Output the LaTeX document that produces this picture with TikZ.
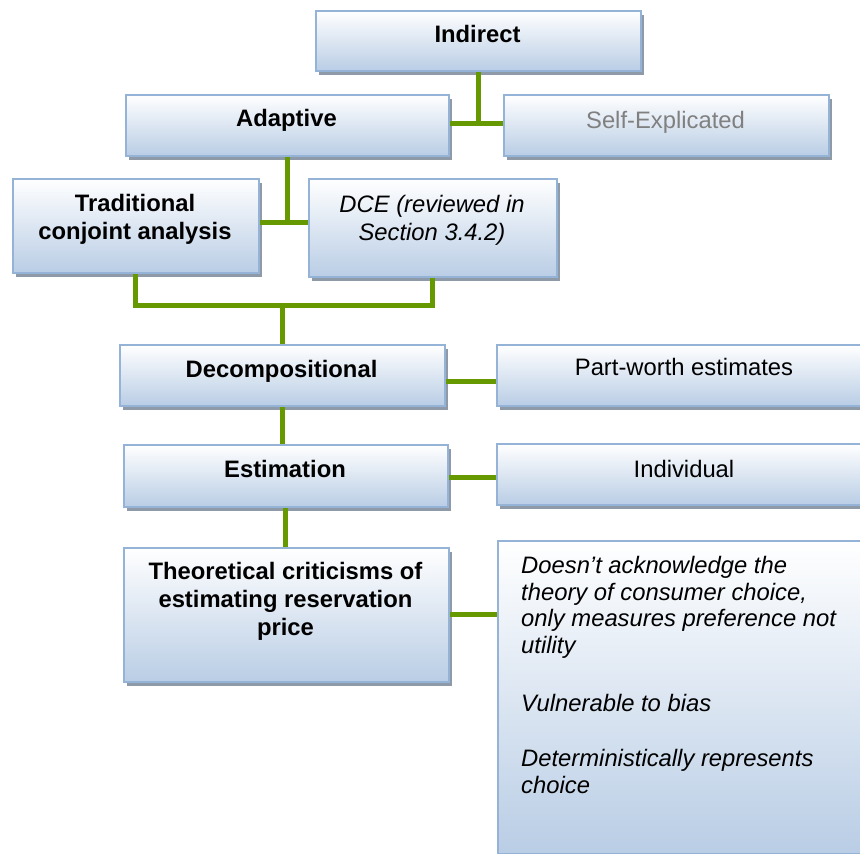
\documentclass[tikz,border=0pt]{standalone}
\usepackage{fontspec}
\setmainfont{Liberation Sans}
\usetikzlibrary{shadows}

\definecolor{boxedge}{HTML}{95B3D7}
\definecolor{boxfill}{HTML}{B9CDE5}
\definecolor{boxshadow}{HTML}{8E9AA8}
\definecolor{linkgreen}{HTML}{669900}
\definecolor{softgray}{HTML}{808080}

\tikzset{
  box/.style={draw=boxedge, line width=1.8pt, top color=white, bottom color=boxfill,
    anchor=north west, inner sep=0pt,
    drop shadow={shadow xshift=3pt, shadow yshift=-4pt, fill=boxshadow, opacity=1}},
  lbl/.style={anchor=base, inner sep=0pt, align=center,
    font=\fontsize{23.8}{28}\selectfont},
  title/.style={lbl, font=\fontsize{23.8}{28}\selectfont\bfseries},
  link/.style={draw=linkgreen, line width=5pt}
}

\begin{document}
\begin{tikzpicture}[x=1pt, y=1pt]
\useasboundingbox (0,0) rectangle (860,-854);

% boxes
\node[box, minimum width=325pt, minimum height=60pt]  (indirect)   at (315,-10)  {};
\node[box, minimum width=323pt, minimum height=61pt]  (adaptive)   at (125,-94)  {};
\node[box, minimum width=325pt, minimum height=61pt]  (selfexp)    at (503,-94)  {};
\node[box, minimum width=246pt, minimum height=94pt]  (trad)       at (12,-178)  {};
\node[box, minimum width=248pt, minimum height=98pt]  (dce)        at (308,-178) {};
\node[box, minimum width=325pt, minimum height=61pt]  (decomp)     at (119,-344) {};
\node[box, minimum width=376pt, minimum height=61pt]  (partworth)  at (496,-344) {};
\node[box, minimum width=324pt, minimum height=62pt]  (estimation) at (123,-444) {};
\node[box, minimum width=376pt, minimum height=61pt]  (individual) at (496,-443) {};
\node[box, minimum width=325pt, minimum height=134pt] (theo)       at (123,-547) {};
\node[box, minimum width=375pt, minimum height=313pt] (crit)       at (497,-540) {};

% connectors
\coordinate (j1) at (indirect.south |- 0,-123);
\draw[link] (indirect.south) -- (j1);
\draw[link] (adaptive.east |- j1) -- (selfexp.west |- j1);

\coordinate (j2) at (adaptive.south |- 0,-222);
\draw[link] (adaptive.south) -- (j2);
\draw[link] (trad.east |- j2) -- (dce.west |- j2);

\coordinate (b1) at (0,-305);
\draw[link] (trad.south) |- (b1 -| dce.south) -- (dce.south);
\draw[link] (decomp.north |- b1) -- (decomp.north);

\draw[link] (decomp.south) -- (decomp.south |- estimation.north);
\draw[link] (estimation.south) -- (estimation.south |- theo.north);

\coordinate (d1) at ([yshift=-6pt]decomp.east);
\draw[link] (d1) -- (d1 -| partworth.west);
\coordinate (e1) at ([yshift=-2pt]estimation.east);
\draw[link] (e1) -- (e1 -| individual.west);
\draw[link] (theo.east) -- (theo.east -| crit.west);

% labels
\node[title] (indirect-t) at (477.5,-42) {Indirect};
\node[title] (adaptive-t) at (286.5,-126) {Adaptive};
\node[lbl, text=softgray] (selfexp-t) at (665.5,-128) {Self-Explicated};
\node[title] (trad-t) at (135,-239.5) {Traditional\\conjoint analysis};
\node[lbl, font=\fontsize{23.8}{28}\selectfont\itshape] (dce-t) at (432,-240) {DCE (reviewed in\\Section 3.4.2)};
\node[title] (decomp-t) at (281.5,-377) {Decompositional};
\node[lbl] (partworth-t) at (684,-375) {Part-worth estimates};
\node[title] (estimation-t) at (285,-477) {Estimation};
\node[lbl] (individual-t) at (684,-477) {Individual};
\node[title] (theo-t) at (285.5,-635) {Theoretical criticisms of\\estimating reservation\\price};
\node[lbl, anchor=base west, align=left, font=\fontsize{23.8}{26.8}\selectfont\itshape] (crit-t) at (521,-793)
  {Doesn’t acknowledge the\\theory of consumer choice,\\only measures preference not\\utility\\[31pt]Vulnerable to bias\\[28pt]Deterministically represents\\choice};
\end{tikzpicture}
\end{document}
